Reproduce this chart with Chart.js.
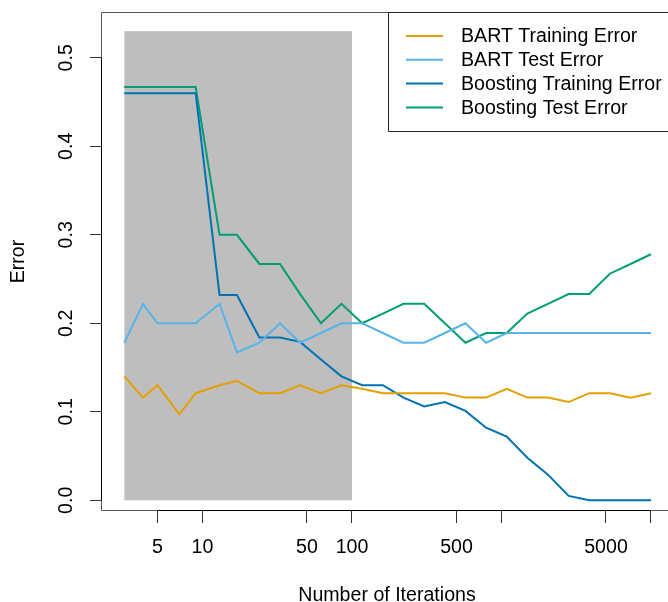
<!DOCTYPE html>
<html>
<head>
<meta charset="utf-8">
<script src="https://cdn.jsdelivr.net/npm/chart.js@4"></script>
<style>
	html, body { margin: 0; padding: 0; background: #fff; overflow: hidden; }
	#wrap { width: 690px; height: 602px; position: relative; }
</style>
</head>
<body>
<div id="wrap"><canvas id="error-chart"></canvas></div>
<script>
// ===================== Data =====================

const iterations = [3, 4, 5, 7, 9, 13, 17, 24, 33, 45, 62, 85, 117, 161, 221, 304, 418, 574, 789, 1084, 1489, 2046, 2812, 3863, 5309, 7294, 10000];

const bartTrain = [0.140, 0.116, 0.130, 0.097, 0.121, 0.130, 0.135, 0.121, 0.121, 0.130, 0.121, 0.130, 0.126, 0.121, 0.121, 0.121, 0.121, 0.116, 0.116, 0.126, 0.116, 0.116, 0.111, 0.121, 0.121, 0.116, 0.121];
const bartTest = [0.178, 0.222, 0.200, 0.200, 0.200, 0.222, 0.167, 0.178, 0.200, 0.178, 0.189, 0.200, 0.200, 0.189, 0.178, 0.178, 0.189, 0.200, 0.178, 0.189, 0.189, 0.189, 0.189, 0.189, 0.189, 0.189, 0.189];
const boostTrain = [0.460, 0.460, 0.460, 0.460, 0.460, 0.232, 0.232, 0.184, 0.184, 0.179, 0.159, 0.140, 0.130, 0.130, 0.116, 0.106, 0.111, 0.101, 0.082, 0.072, 0.048, 0.029, 0.005, 0, 0, 0, 0];
const boostTest = [0.467, 0.467, 0.467, 0.467, 0.467, 0.300, 0.300, 0.267, 0.267, 0.233, 0.200, 0.222, 0.200, 0.211, 0.222, 0.222, 0.200, 0.178, 0.189, 0.189, 0.211, 0.222, 0.233, 0.233, 0.256, 0.267, 0.278];

const seriesLabels = ['BART Training Error', 'BART Test Error', 'Boosting Training Error', 'Boosting Test Error'];
const seriesColors = ['#E69F00', '#56B4E9', '#0072B2', '#009E73'];

const xTickValues = [5, 10, 50, 100, 500, 1000, 5000, 10000];
const xTickLabels = ['5', '10', '50', '100', '500', '', '5000', ''];
const yTickValues = [0, 0.1, 0.2, 0.3, 0.4, 0.5];

// shaded region (iterations 3..100, error 0..0.53)
const shadeX = [3, 100];
const shadeY = [0, 0.53];

// ===================== Chart =====================

const fontFamily = '"Liberation Sans", Arial, Helvetica, sans-serif';
Chart.defaults.font.family = fontFamily;
Chart.defaults.font.size = 19.6;
Chart.defaults.color = '#000';

const allSeries = [bartTrain, bartTest, boostTrain, boostTest];

const datasets = allSeries.map((values, i) => ({
	label: seriesLabels[i],
	data: values.map((v, j) => ({ x: iterations[j], y: v })),
	borderColor: seriesColors[i],
	backgroundColor: seriesColors[i],
	borderWidth: 2,
	pointRadius: 0,
	tension: 0,
	fill: false,
}));

const shadePlugin = {
	id: 'shade',
	beforeDatasetsDraw(chart) {
		const { ctx, scales } = chart;
		const x0 = scales.x.getPixelForValue(shadeX[0]);
		const x1 = scales.x.getPixelForValue(shadeX[1]);
		const y0 = scales.y.getPixelForValue(shadeY[1]);
		const y1 = scales.y.getPixelForValue(shadeY[0]);
		ctx.save();
		ctx.fillStyle = '#bebebe';
		ctx.fillRect(x0, y0, x1 - x0, y1 - y0);
		ctx.restore();
	},
};

// box round the plot, axis lines and the legend
const framePlugin = {
	id: 'frame',
	afterDraw(chart) {
		const { ctx, chartArea, scales } = chart;
		const left = Math.round(chartArea.left) - 0.5;
		const top = Math.round(chartArea.top) + 0.5;
		const bottom = Math.round(chartArea.bottom) - 0.5;
		ctx.save();
		ctx.lineWidth = 1;
		ctx.strokeStyle = '#555';
		ctx.beginPath();
		ctx.moveTo(chart.width, top);
		ctx.lineTo(left, top);
		ctx.lineTo(left, bottom);
		ctx.lineTo(chart.width, bottom);
		ctx.stroke();

		// axis lines, first tick to last tick
		const xa = scales.x.getPixelForValue(xTickValues[0]);
		const xb = scales.x.getPixelForValue(xTickValues[xTickValues.length - 1]);
		const ya = scales.y.getPixelForValue(yTickValues[0]);
		const yb = scales.y.getPixelForValue(yTickValues[yTickValues.length - 1]);
		ctx.strokeStyle = '#000';
		ctx.beginPath();
		ctx.moveTo(xa, bottom);
		ctx.lineTo(xb, bottom);
		ctx.moveTo(left, ya);
		ctx.lineTo(left, yb);
		ctx.stroke();

		// legend box (its right side runs off the page)
		const boxLeft = 388.5;
		const boxBottom = 131.5;
		ctx.fillStyle = '#fff';
		ctx.fillRect(boxLeft, top, chart.width - boxLeft, boxBottom - top);
		ctx.strokeStyle = '#222';
		ctx.beginPath();
		ctx.moveTo(chart.width, top);
		ctx.lineTo(boxLeft, top);
		ctx.lineTo(boxLeft, boxBottom);
		ctx.lineTo(chart.width, boxBottom);
		ctx.stroke();

		ctx.font = '19.6px ' + fontFamily;
		ctx.textBaseline = 'middle';
		ctx.textAlign = 'left';
		chart.data.datasets.forEach((ds, i) => {
			const y = 36 + i * 23.8;
			ctx.strokeStyle = ds.borderColor;
			ctx.lineWidth = 2;
			ctx.beginPath();
			ctx.moveTo(406, y);
			ctx.lineTo(443, y);
			ctx.stroke();
			ctx.fillStyle = '#000';
			ctx.fillText(ds.label, 461, y + 1);
		});
		ctx.restore();
	},
};

const errorChart = new Chart(document.getElementById('error-chart'), {
	type: 'line',
	data: { datasets: datasets },
	options: {
		responsive: true,
		maintainAspectRatio: false,
		animation: false,
		devicePixelRatio: 1,
		layout: { padding: { top: 12, right: 18, left: 0, bottom: 0 } },
		plugins: {
			legend: { display: false },
			tooltip: { enabled: false },
		},
		scales: {
			x: {
				type: 'logarithmic',
				min: 2.127,
				max: 13820,
				afterBuildTicks: (scale) => {
					scale.ticks = xTickValues.map((v) => ({ value: v }));
				},
				afterFit: (scale) => {
					scale.height = 91;
					scale.paddingLeft = 0;
					scale.paddingRight = 0;
				},
				ticks: {
					autoSkip: false,
					maxRotation: 0,
					minRotation: 0,
					padding: 13,
					callback: (value) => {
						const idx = xTickValues.indexOf(value);
						return idx >= 0 ? xTickLabels[idx] : '';
					},
				},
				grid: {
					drawOnChartArea: false,
					drawTicks: true,
					tickLength: 12,
					color: '#333',
				},
				border: { display: false },
				title: {
					display: true,
					text: 'Number of Iterations',
					padding: { top: 0, bottom: -5 },
				},
			},
			y: {
				type: 'linear',
				min: -0.0121,
				max: 0.5517,
				afterBuildTicks: (scale) => {
					scale.ticks = yTickValues.map((v) => ({ value: v }));
				},
				afterFit: (scale) => {
					scale.width = 102;
					scale.paddingTop = 0;
					scale.paddingBottom = 0;
				},
				ticks: {
					minRotation: 90,
					maxRotation: 90,
					crossAlign: 'center',
					padding: 10,
					callback: (value) => value.toFixed(1),
				},
				grid: {
					drawOnChartArea: false,
					drawTicks: true,
					tickLength: 12,
					color: '#333',
				},
				border: { display: false },
				title: {
					display: true,
					text: 'Error',
					padding: { top: 7, bottom: 0 },
				},
			},
		},
	},
	plugins: [shadePlugin, framePlugin],
});
</script>
</body>
</html>
